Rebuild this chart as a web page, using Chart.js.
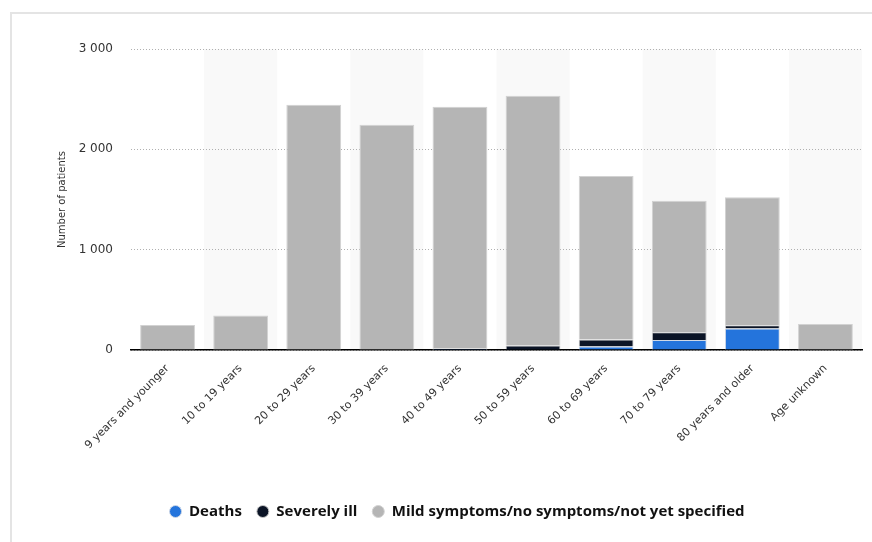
<!DOCTYPE html>
<html>
<head>
<meta charset="utf-8">
<script src="https://cdn.jsdelivr.net/npm/chart.js@4.4.1/dist/chart.umd.min.js"></script>
<style>
  html, body { margin: 0; padding: 0; background: #fff; }
  #frame { position: absolute; left: 10px; top: 12px; width: 870px; height: 540px;
           border-left: 2px solid #e4e4e4; border-top: 2px solid #e4e4e4; }
  #wrap { position: absolute; left: 0; top: 0; width: 872px; height: 542px; }
</style>
</head>
<body>
<div id="frame"></div>
<div id="wrap"><canvas id="chart1"></canvas></div>
<script>
const age_groups = ["9 years and younger", "10 to 19 years", "20 to 29 years", "30 to 39 years",
  "40 to 49 years", "50 to 59 years", "60 to 69 years", "70 to 79 years", "80 years and older", "Age unknown"];
const deaths = [0, 0, 0, 0, 2, 8, 35, 100, 215, 0];
const severely_ill = [0, 0, 5, 5, 15, 38, 70, 78, 32, 0];
const mild = [248, 345, 2440, 2240, 2407, 2487, 1630, 1309, 1276, 258];

// light stripes behind every second category
const bands = {
  id: "bands",
  beforeDraw(chart) {
    const ctx = chart.ctx, area = chart.chartArea, x = chart.scales.x;
    const w = (area.right - area.left) / age_groups.length;
    ctx.save();
    ctx.fillStyle = "#f9f9f9";
    for (let i = 1; i < age_groups.length; i += 2) {
      ctx.fillRect(x.getPixelForValue(i) - w / 2, area.top, w, area.bottom - area.top);
    }
    ctx.restore();
  }
};

function fmt(v) {
  return String(v).replace(/\B(?=(\d{3})+(?!\d))/g, " ");
}

const ctx = document.getElementById("chart1").getContext("2d");
const myChart = new Chart(ctx, {
  type: "bar",
  data: {
    labels: age_groups,
    datasets: [
      { label: "Deaths", data: deaths, backgroundColor: "#2474dc", borderColor: "#cfd8e6", borderWidth: 1 },
      { label: "Severely ill", data: severely_ill, backgroundColor: "#0b1426", borderColor: "#c8c8c8", borderWidth: 1 },
      { label: "Mild symptoms/no symptoms/not yet specified", data: mild, backgroundColor: "#b5b5b5", borderColor: "#d2d2d2", borderWidth: 1 }
    ]
  },
  plugins: [bands],
  options: {
    responsive: true,
    maintainAspectRatio: false,
    animation: false,
    layout: { padding: { top: 49, left: 52, right: 10, bottom: 13 } },
    datasets: { bar: { categoryPercentage: 1, barPercentage: 0.75 } },
    scales: {
      x: {
        stacked: true,
        afterFit: (scale) => { scale.height = 139; scale.paddingLeft = 0; scale.paddingRight = 0; },
        grid: { display: false },
        border: { display: true, color: "#000", width: 1.5 },
        ticks: {
          color: "#333", minRotation: 45, maxRotation: 45, padding: 4,
          font: { family: "DejaVu Sans", size: 11 }
        }
      },
      y: {
        stacked: true,
        min: 0, max: 3000,
        afterFit: (scale) => { scale.width = 79; },
        border: { display: false, dash: [1, 2] },
        grid: { color: "#b0b0b0", drawTicks: false, lineWidth: 1 },
        ticks: {
          stepSize: 1000, padding: 18, color: "#333",
          font: { family: "DejaVu Sans", size: 12 },
          callback: (v) => fmt(v)
        },
        title: {
          display: true, text: "Number of patients", color: "#333",
          font: { family: "DejaVu Sans", size: 10 }, padding: { top: 4, bottom: 11 }
        }
      }
    },
    plugins: {
      legend: {
        position: "bottom",
        labels: {
          usePointStyle: true, pointStyle: "circle", boxWidth: 12, boxHeight: 8.5,
          padding: 15, color: "#111",
          font: { family: "Open Sans", size: 15, weight: "bold" }
        }
      },
      tooltip: { enabled: false }
    }
  }
});
</script>
</body>
</html>
